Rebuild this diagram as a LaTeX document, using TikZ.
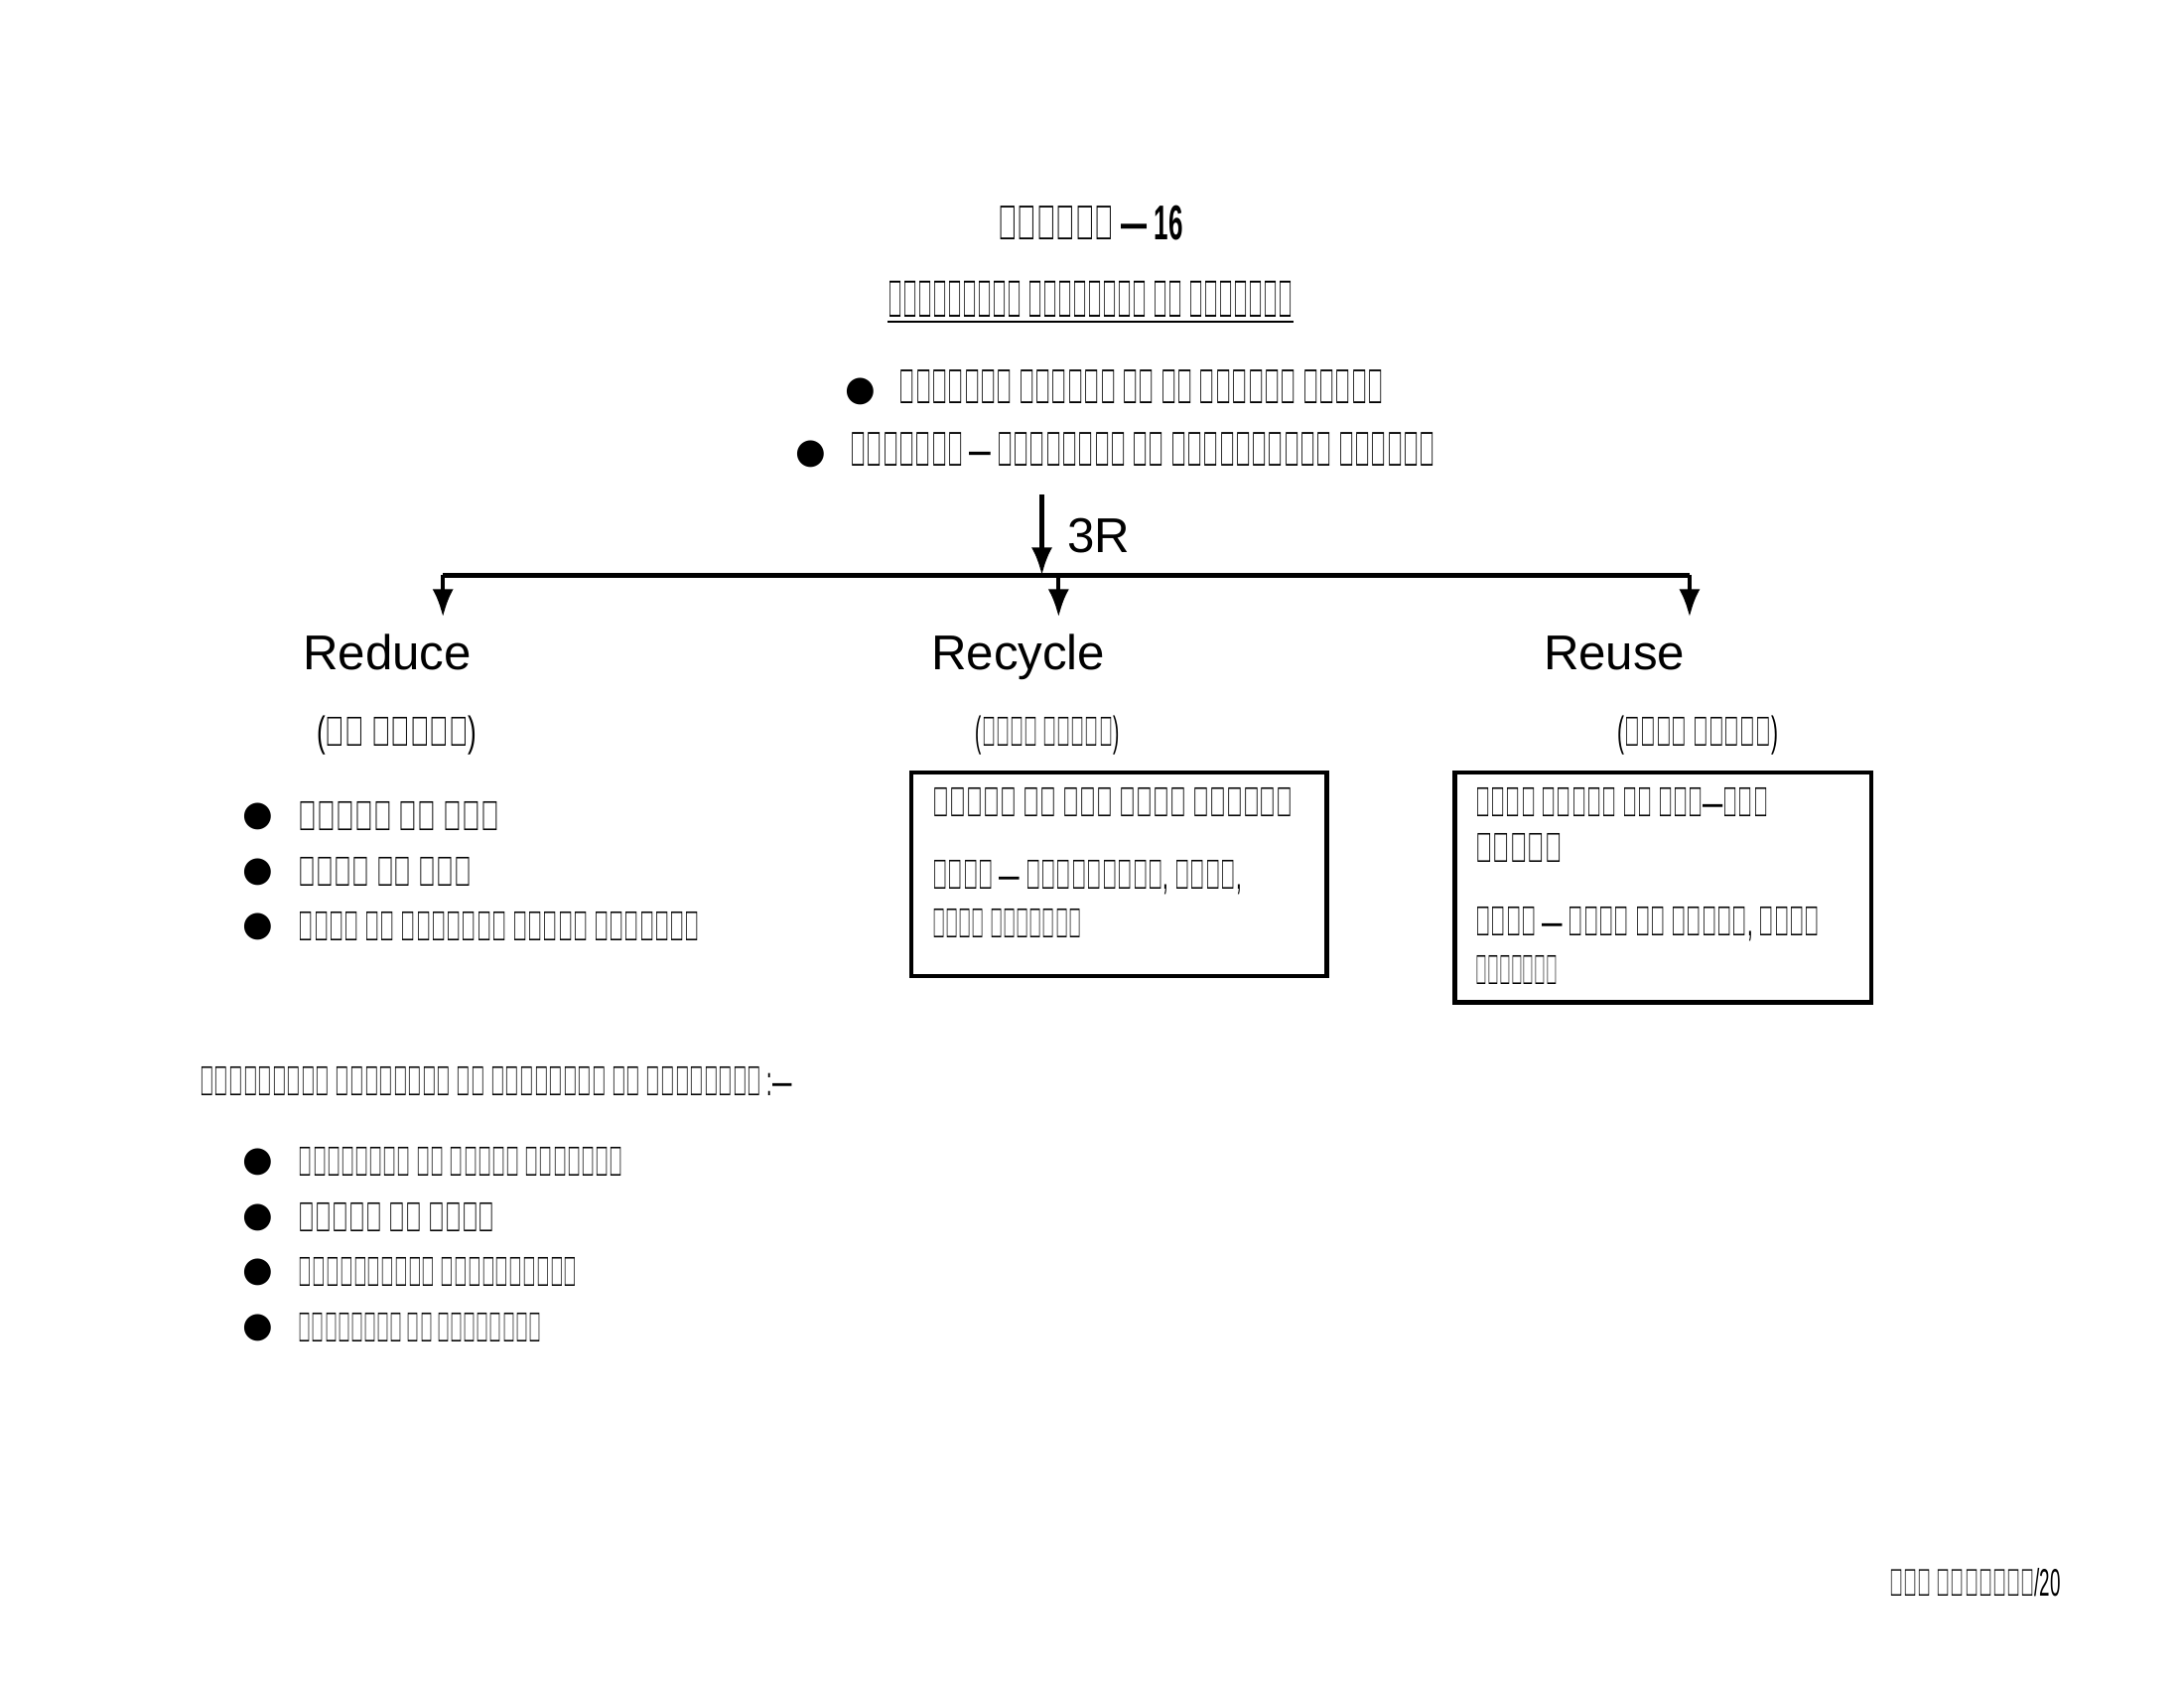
\documentclass[tikz,border=0pt]{standalone}
\usepackage{fontspec}
\setmainfont{Liberation Sans}
\newfontfamily\symf{DejaVu Sans}
\usetikzlibrary{arrows.meta}
\newcommand\fitw[2]{\resizebox{#1\dimexpr 0.01403cm\relax}{\height}{#2}}
\begin{document}
\begin{tikzpicture}[x=0.01403cm,y=-0.01403cm,
  txt/.style={font=\fontsize{12}{14}\selectfont,inner sep=0pt},
  lt/.style={txt,anchor=west},
  big/.style={font=\fontsize{14}{16}\selectfont,inner sep=0pt,text height=10pt,text depth=3pt},
  bul/.style={font=\symf\fontsize{10}{12}\selectfont,inner sep=0pt},
  arr/.style={-{Latex[length=8pt,width=6pt]},line width=1.2pt},
  box/.style={draw,line width=1.2pt}]
\useasboundingbox (0,0) rectangle (1568,1210);
\node[txt,font=\bfseries\fontsize{14}{16}\selectfont] (ch) at (783,160) {\fitw{133}{अध्याय — 16}};
\node[txt,font=\bfseries\fontsize{15}{17}\selectfont] (tt) at (783,217) {\underline{\fitw{291}{प्राकृतिक संसाधनों का प्रबंधन}}};
\node[bul] (b1) at (618,281) {●};
\node[big,anchor=west] (l1) at (645,281) {\fitw{348}{प्रकृति द्वारा दी गई उपयोगी चीजे।}};
\node[bul] (b2) at (582,326) {●};
\node[big,anchor=west] (l2) at (610,326) {\fitw{420}{प्रबंधन — संसाधनों का विवेकपूर्ण उपयोग।}};
\coordinate (s) at (748,355);
\coordinate (m) at (748,413);
\draw[arr] (s) -- (m);
\node[big] (r3) at (789,388) {3R};
\coordinate (hl) at (318,413); \coordinate (hr) at (1213,413); \coordinate (hc) at (760,413);
\coordinate (el) at (318,443); \coordinate (ec) at (760,443); \coordinate (er) at (1213,443);
\draw[line width=1.2pt] (hl) -- (hr);
\draw[arr] (hl) -- (el);
\draw[arr] (hc) -- (ec);
\draw[arr] (hr) -- (er);
\node[big] (rd) at (278,472) {Reduce};
\node[big] (rc) at (731,472) {Recycle};
\node[big] (ru) at (1159,472) {Reuse};
\node[txt] (p1) at (285,528) {\fitw{115}{(कम उपयोग)}};
\node[txt] (p2) at (752,528) {\fitw{103}{(पुनः चक्रण)}};
\node[txt] (p3) at (1219,528) {\fitw{115}{(पुनः उपयोग)}};
\foreach \y/\w/\t [count=\i] in {586/144/बिजली की बचत,626/124/पानी की बचत,665/288/भोजन की बर्बादी रोककर इत्यादि}{
  \node[bul] (rb\i) at (185,\y) {●};
  \node[lt] (rt\i) at (214,\y) {\fitw{\w}{\t}};
}
\node[box,minimum width=298*0.01403cm,minimum height=146*0.01403cm,anchor=north west,inner sep=0pt] (bx1) at (653,553) {};
\node[lt] (c1) at (669,576) {\fitw{259}{उपयोग के बाद पुनः उपयोग।}};
\node[lt] (c2) at (669,630) {\fitw{222}{जैसे — प्लास्टिक, कागज,}};
\node[lt] (c3) at (669,663) {\fitw{107}{काँच इत्यादि}};
\node[box,minimum width=299*0.01403cm,minimum height=165*0.01403cm,anchor=north west,inner sep=0pt] (bx2) at (1043,553) {};
\node[lt] (d1) at (1059,576) {\fitw{210}{किसी वस्तु का बार—बार}};
\node[lt] (d2) at (1059,609) {\fitw{62}{उपयोग}};
\node[lt] (d3) at (1059,663) {\fitw{247}{जैसे — धातु के डब्बे, कागज}};
\node[lt] (d4) at (1059,696) {\fitw{59}{इत्यादि}};
\node[lt] (hd) at (143,776) {\fitw{425}{प्राकृतिक संसाधनों के प्रबन्धन की आवश्यकता :—}};
\foreach \y/\w/\t [count=\i] in {834/233/संसाधनों की सीमित मात्रा।,874/141/ऊर्जा की बचत।,913/200/दीर्घकालिक दृष्टिकोण।,953/174/पर्यावरण की सुरक्षा।}{
  \node[bul] (nb\i) at (185,\y) {●};
  \node[lt] (nt\i) at (214,\y) {\fitw{\w}{\t}};
}
\node[txt,anchor=east,font=\fontsize{11}{13}\selectfont] (ft) at (1480,1136) {\fitw{123}{जीव विज्ञान/20}};
\end{tikzpicture}
\end{document}
